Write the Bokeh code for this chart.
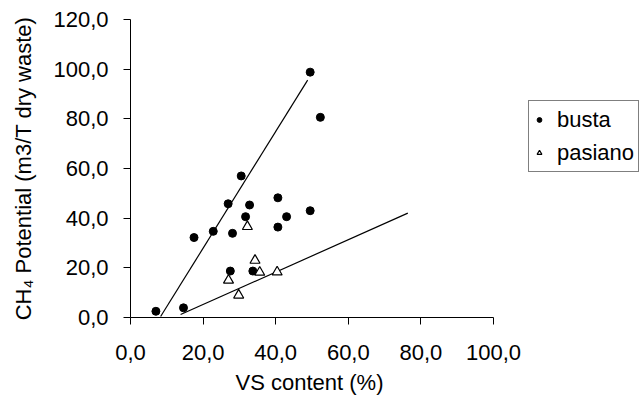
from bokeh.plotting import figure
from bokeh.models import Legend, LegendItem, FixedTicker, Range1d, Title
from bokeh.embed import file_html
from bokeh.resources import INLINE

# ---- data ----
busta_vs = [7.0, 14.6, 17.5, 22.8, 26.9, 28.1, 27.5, 31.7, 32.8, 33.7, 40.6, 40.6, 43.0, 49.5, 49.5, 52.3, 30.5]
busta_ch4 = [2.5, 3.9, 32.2, 34.7, 45.8, 33.9, 18.7, 40.6, 45.3, 18.7, 48.2, 36.4, 40.6, 43.0, 98.8, 80.6, 57.0]

pasiano_vs = [32.2, 34.3, 35.6, 40.4, 27.0, 29.8]
pasiano_ch4 = [36.6, 23.0, 18.2, 18.3, 15.0, 9.0]

busta_fit_slope = 2.35
busta_fit_intercept = -19.1
busta_fit_x = [8.3, 48.8]

pasiano_fit_slope = 0.652
pasiano_fit_intercept = -7.8
pasiano_fit_x = [13.8, 76.4]

x_ticks = [0, 20, 40, 60, 80, 100]
x_tick_labels = ["0,0", "20,0", "40,0", "60,0", "80,0", "100,0"]
y_ticks = [0, 20, 40, 60, 80, 100, 120]
y_tick_labels = ["0,0", "20,0", "40,0", "60,0", "80,0", "100,0", "120,0"]

FONT = "Liberation Sans"
FS = "22px"

W, H = 640, 400
LEFT, TOP = 130, 19
FRAME_H = 300
PX_PER_X = 3.63
x_end = (W - LEFT) / PX_PER_X

p = figure(width=W, height=H, output_backend="svg", toolbar_location=None,
           x_range=Range1d(0, x_end), y_range=Range1d(0, 120),
           min_border_left=LEFT, min_border_right=0, min_border_top=TOP,
           min_border_bottom=H - TOP - FRAME_H)
p.outline_line_color = None
p.xgrid.visible = False
p.ygrid.visible = False
p.background_fill_color = "white"
p.border_fill_color = "white"

for ax, ticks, labels in ((p.xaxis[0], x_ticks, x_tick_labels), (p.yaxis[0], y_ticks, y_tick_labels)):
    ax.ticker = FixedTicker(ticks=ticks)
    ax.bounds = (ticks[0], ticks[-1])
    ax.major_label_overrides = {t: l for t, l in zip(ticks, labels)}
    ax.minor_tick_line_color = None
    ax.major_tick_in = 0
    ax.major_tick_out = 7
    ax.axis_line_color = "black"
    ax.major_tick_line_color = "black"
    ax.major_label_text_font = FONT
    ax.major_label_text_font_size = FS
    ax.major_label_text_color = "black"
    ax.axis_label_text_font = FONT
    ax.axis_label_text_font_size = FS
    ax.axis_label_text_font_style = "normal"
    ax.axis_label_text_color = "black"

p.yaxis.axis_label = "CH\u2084 Potential (m3/T dry waste)"
p.xaxis.major_label_standoff = 20
p.yaxis.major_label_standoff = 15
p.yaxis.axis_label_standoff = 14

# x-axis title centred under the 0..100 axis (not the whole frame)
xtitle = Title(text="VS content (%)", align="left", offset=105, standoff=11,
               text_font=FONT, text_font_size=FS, text_font_style="normal",
               text_color="black")
p.add_layout(xtitle, "below")

bfy = [busta_fit_slope * x + busta_fit_intercept for x in busta_fit_x]
pfy = [pasiano_fit_slope * x + pasiano_fit_intercept for x in pasiano_fit_x]
p.line(busta_fit_x, bfy, line_color="black", line_width=1.2)
p.line(pasiano_fit_x, pfy, line_color="black", line_width=1.2)

r_b = p.scatter(busta_vs, busta_ch4, marker="circle", size=8, fill_color="black", line_color="black")
r_p = p.scatter(pasiano_vs, pasiano_ch4, marker="triangle", size=10, fill_color="white",
                line_color="black", line_width=1.2)

legend = Legend(items=[LegendItem(label="busta", renderers=[r_b]),
                       LegendItem(label="pasiano", renderers=[r_p])],
                location=(398, 145))
legend.label_text_font = FONT
legend.label_text_font_size = FS
legend.label_text_color = "black"
legend.border_line_color = "black"
legend.border_line_width = 1
legend.padding = 4
legend.spacing = 4
legend.margin = 0
legend.glyph_width = 12
legend.glyph_height = 29
legend.label_height = 29
legend.label_standoff = 12
legend.background_fill_alpha = 1
p.add_layout(legend, "center")

open("out.html", "w").write(file_html(p, INLINE))
